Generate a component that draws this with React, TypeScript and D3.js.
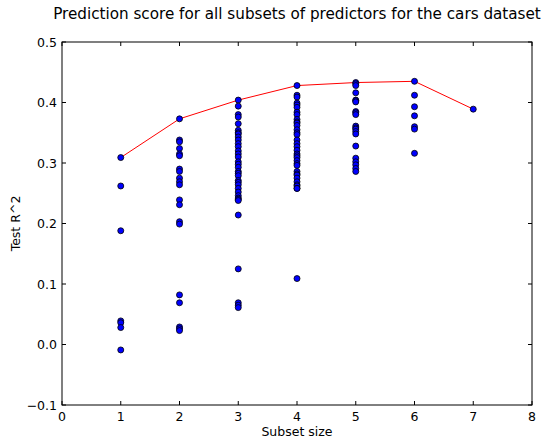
import React from "react";
import * as d3 from "d3";

// test R^2 for each subset, grouped by subset size
const size1 = [0.309, 0.262, 0.188, 0.039, 0.036, 0.028, -0.009];
const size2 = [
  0.373, 0.338, 0.335, 0.324, 0.315, 0.312, 0.29, 0.286, 0.275, 0.269, 0.264,
  0.239, 0.231, 0.203, 0.199, 0.082, 0.069, 0.029, 0.026, 0.023,
];
const size3 = [
  0.404, 0.394, 0.38, 0.376, 0.365, 0.354, 0.35, 0.348, 0.343, 0.338, 0.332,
  0.327, 0.32, 0.315, 0.31, 0.302, 0.298, 0.293, 0.286, 0.283, 0.279, 0.271,
  0.268, 0.264, 0.258, 0.252, 0.246, 0.242, 0.24, 0.238, 0.214, 0.125, 0.069,
  0.065, 0.061,
];
const size4 = [
  0.428, 0.412, 0.409, 0.399, 0.396, 0.392, 0.384, 0.38, 0.372, 0.368, 0.366,
  0.362, 0.355, 0.35, 0.347, 0.338, 0.332, 0.327, 0.321, 0.315, 0.312, 0.309,
  0.304, 0.299, 0.296, 0.286, 0.282, 0.28, 0.275, 0.269, 0.264, 0.262, 0.258,
  0.258, 0.109,
];
const size5 = [
  0.433, 0.431, 0.428, 0.416, 0.404, 0.403, 0.401, 0.385, 0.383, 0.38, 0.361,
  0.358, 0.356, 0.352, 0.348, 0.328, 0.308, 0.302, 0.297, 0.291, 0.286,
];
const size6 = [0.435, 0.412, 0.393, 0.378, 0.36, 0.356, 0.316];
const size7 = [0.389];

const groups = [size1, size2, size3, size4, size5, size6, size7];
const xTicks = [0, 1, 2, 3, 4, 5, 6, 7, 8];
const yTicks = [-0.1, 0, 0.1, 0.2, 0.3, 0.4, 0.5];

const W = 545;
const H = 438;
const m = { left: 62, right: 13, top: 42, bottom: 33 };

export default function App() {
  const x = d3.scaleLinear().domain([0, 8]).range([m.left, W - m.right]);
  const y = d3.scaleLinear().domain([-0.1, 0.5]).range([H - m.bottom, m.top]);

  const points = groups.flatMap((g, i) => g.map((v) => ({ k: i + 1, v })));
  const best = groups.map((g, i) => ({ k: i + 1, v: d3.max(g) as number }));
  const line = d3
    .line<{ k: number; v: number }>()
    .x((d) => x(d.k))
    .y((d) => y(d.v));

  const fmtY = (v: number) => (v < 0 ? "\u2212" : "") + Math.abs(v).toFixed(1);
  const font = "DejaVu Sans, sans-serif";
  const x0 = m.left;
  const x1 = W - m.right;
  const y0 = H - m.bottom;
  const y1 = m.top;
  const tl = 4;

  return (
    <svg
      width={W}
      height={H}
      style={{ position: "absolute", left: 0, top: 0, background: "#fff" }}
      fontFamily={font}
    >
      <rect x={0} y={0} width={W} height={H} fill="#fff" />
      <text x={(x0 + x1) / 2} y={19} textAnchor="middle" fontSize={15.2}>
        Prediction score for all subsets of predictors for the cars dataset
      </text>

      <path d={line(best) ?? ""} fill="none" stroke="#ff0000" strokeWidth={1} />
      {points.map((p, i) => (
        <circle
          key={i}
          cx={x(p.k)}
          cy={y(p.v)}
          r={3}
          fill="#0000ff"
          stroke="#000"
          strokeWidth={0.8}
        />
      ))}

      {xTicks.map((t) => (
        <g key={"x" + t}>
          <line x1={x(t)} x2={x(t)} y1={y0} y2={y0 - tl} stroke="#000" />
          <line x1={x(t)} x2={x(t)} y1={y1} y2={y1 + tl} stroke="#000" />
          <text x={x(t)} y={y0 + 16} textAnchor="middle" fontSize={12.5}>
            {t}
          </text>
        </g>
      ))}
      {yTicks.map((t) => (
        <g key={"y" + t}>
          <line x1={x0} x2={x0 + tl} y1={y(t)} y2={y(t)} stroke="#000" />
          <line x1={x1} x2={x1 - tl} y1={y(t)} y2={y(t)} stroke="#000" />
          <text x={x0 - 5} y={y(t) + 4.5} textAnchor="end" fontSize={12.5}>
            {fmtY(t)}
          </text>
        </g>
      ))}

      <rect
        x={x0}
        y={y1}
        width={x1 - x0}
        height={y0 - y1}
        fill="none"
        stroke="#000"
        strokeWidth={1}
      />

      <text x={(x0 + x1) / 2} y={H - 2} textAnchor="middle" fontSize={12.5}>
        Subset size
      </text>
      <text
        transform={`translate(20,${(y0 + y1) / 2}) rotate(-90)`}
        textAnchor="middle"
        fontSize={12.5}
      >
        Test R^2
      </text>
    </svg>
  );
}
